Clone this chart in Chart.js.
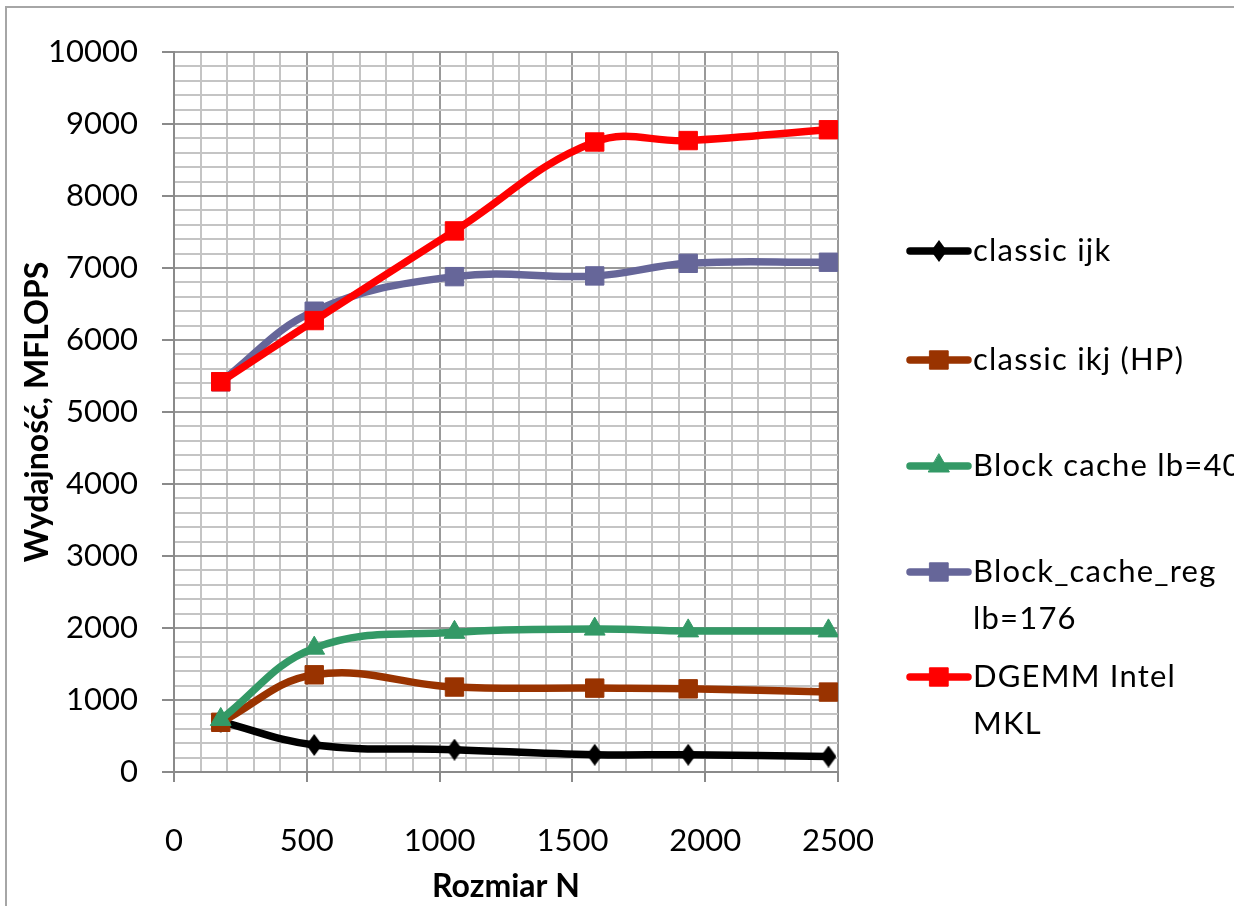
<!DOCTYPE html>
<html>
<head>
<meta charset="utf-8">
<script src="https://cdn.jsdelivr.net/npm/chart.js@4/dist/chart.umd.min.js"></script>
<style>
  html, body { margin: 0; padding: 0; background: #fff; }
  #wrap { width: 1234px; height: 906px; position: relative; }
</style>
</head>
<body>
<div id="wrap"><canvas id="c" width="1234" height="906"></canvas></div>
<script>
// ---- data ----
const sizesN = [176, 528, 1056, 1584, 1936, 2464];
const classicIjk = [700, 375, 310, 240, 240, 215];
const classicIkj = [690, 1350, 1180, 1165, 1155, 1110];
const blockCache = [730, 1720, 1940, 1985, 1960, 1960];
const blockCacheReg = [5420, 6400, 6880, 6890, 7065, 7080];
const dgemmMkl = [5420, 6270, 7515, 8750, 8770, 8920];
const seriesNames = ['classic ijk', 'classic ikj (HP)', 'Block cache lb=40', 'Block_cache_reg\nlb=176', 'DGEMM Intel\nMKL'];
const xTitle = 'Rozmiar N';
const yTitle = 'Wydajność, MFLOPS';

// ---- styles ----
const FONT = 'Lato';
const colors = ['#000000', '#993300', '#339966', '#666699', '#FF0000'];

function makeDiamond(w, h, color) {
  const c = document.createElement('canvas');
  c.width = w; c.height = h;
  const g = c.getContext('2d');
  g.fillStyle = color;
  g.beginPath();
  g.moveTo(w / 2, 0); g.lineTo(w, h / 2); g.lineTo(w / 2, h); g.lineTo(0, h / 2);
  g.closePath(); g.fill();
  return c;
}
const diamond = makeDiamond(16, 22, '#000000');
const pointStyles = [diamond, 'rect', 'triangle', 'rect', 'rect'];
const pointRadii = [9, 13, 12, 13, 13];

const allSeries = [classicIjk, classicIkj, blockCache, blockCacheReg, dgemmMkl];

const datasets = allSeries.map((vals, i) => ({
  label: seriesNames[i].replace('\n', ' '),
  data: vals.map((v, k) => ({ x: sizesN[k], y: v })),
  borderColor: colors[i],
  backgroundColor: colors[i],
  borderWidth: 7.5,
  borderCapStyle: 'round',
  borderJoinStyle: 'round',
  tension: 0.4,
  pointStyle: pointStyles[i],
  pointRadius: pointRadii[i],
  pointHoverRadius: pointRadii[i],
  pointBorderWidth: 1,
  pointBorderColor: colors[i],
  pointBackgroundColor: colors[i],
  order: allSeries.length - i,
  fill: false
}));

const borderPlugin = {
  id: 'outerBorder',
  beforeDraw(chart) {
    const ctx = chart.ctx;
    ctx.save();
    ctx.fillStyle = '#ffffff';
    ctx.fillRect(0, 0, chart.width, chart.height);
    ctx.strokeStyle = '#a6a6a6';
    ctx.lineWidth = 2;
    ctx.strokeRect(6, 7, 1400, 1100);
    ctx.restore();
  }
};

const legendPos = { lineX1: 910, lineX2: 968, textX: 973, ys: [251, 360, 466, 572, 677], lineGap: 47 };
const legendPlugin = {
  id: 'customLegend',
  afterDraw(chart) {
    const ctx = chart.ctx;
    chart.data.datasets.forEach((ds, i) => {
      const y = legendPos.ys[i];
      ctx.save();
      ctx.strokeStyle = ds.borderColor;
      ctx.lineWidth = 7.5;
      ctx.lineCap = 'round';
      ctx.beginPath();
      ctx.moveTo(legendPos.lineX1, y);
      ctx.lineTo(legendPos.lineX2, y);
      ctx.stroke();
      ctx.fillStyle = ds.pointBackgroundColor;
      ctx.strokeStyle = ds.pointBorderColor;
      ctx.lineWidth = 1;
      Chart.helpers.drawPoint(ctx, {
        pointStyle: ds.pointStyle,
        radius: ds.pointRadius,
        rotation: 0,
        borderWidth: 1
      }, (legendPos.lineX1 + legendPos.lineX2) / 2, y);
      ctx.restore();
      ctx.save();
      ctx.fillStyle = '#000';
      ctx.font = '31px ' + FONT;
      ctx.letterSpacing = '1.2px';
      ctx.textAlign = 'left';
      ctx.textBaseline = 'middle';
      seriesNames[i].split('\n').forEach((line, j) => {
        ctx.fillText(line, legendPos.textX, y + j * legendPos.lineGap);
      });
      ctx.restore();
    });
  }
};

const majorGrid = '#999999';
const minorGrid = '#c4c4c4';

new Chart(document.getElementById('c'), {
  type: 'line',
  data: { datasets },
  options: {
    responsive: false,
    animation: false,
    devicePixelRatio: 1,
    layout: { padding: { top: 52, right: 396, bottom: 0, left: 0 } },
    plugins: { legend: { display: false }, tooltip: { enabled: false } },
    scales: {
      x: {
        type: 'linear',
        min: 0, max: 2500,
        afterFit(s) { s.height = 134; },
        ticks: {
          stepSize: 100,
          autoSkip: false,
          maxRotation: 0,
          padding: 40,
          color: '#000',
          font: { family: FONT, size: 31 },
          callback: v => (v % 500 === 0 ? String(v) : '')
        },
        grid: {
          color: c => (c.tick && c.tick.value % 500 === 0 ? majorGrid : minorGrid),
          lineWidth: 2,
          tickColor: c => (c.tick && c.tick.value % 500 === 0 ? '#8a8a8a' : 'rgba(0,0,0,0)'),
          tickLength: 10,
          tickWidth: 2
        },
        border: { color: '#8a8a8a', width: 2 },
        title: {
          display: true, text: xTitle, color: '#000',
          font: { family: FONT, size: 32, weight: 'bold' },
          padding: { top: 0, bottom: 0 }
        }
      },
      y: {
        type: 'linear',
        min: 0, max: 10000,
        afterFit(s) { s.width = 174; },
        ticks: {
          stepSize: 200,
          autoSkip: false,
          padding: 24,
          color: '#000',
          font: { family: FONT, size: 31 },
          callback: v => (v % 1000 === 0 ? String(v) : '')
        },
        grid: {
          color: c => (c.tick && c.tick.value % 1000 === 0 ? majorGrid : minorGrid),
          lineWidth: 2,
          tickColor: c => (c.tick && c.tick.value % 1000 === 0 ? '#8a8a8a' : 'rgba(0,0,0,0)'),
          tickLength: 12,
          tickWidth: 2
        },
        border: { color: '#8a8a8a', width: 2 },
        title: {
          display: true, text: yTitle, color: '#000',
          font: { family: FONT, size: 32, weight: 'bold' },
          padding: { top: 18, bottom: 0 }
        }
      }
    }
  },
  plugins: [borderPlugin, legendPlugin]
});
</script>
</body>
</html>
